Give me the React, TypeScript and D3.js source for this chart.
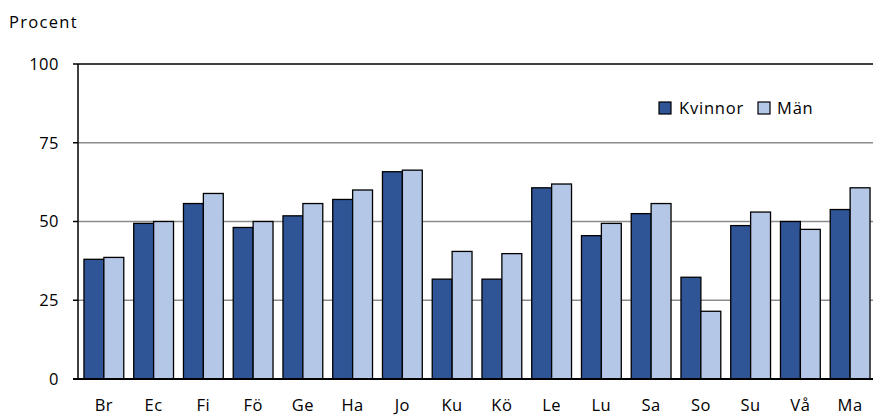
import * as d3 from "d3";

const categories = ["Br", "Ec", "Fi", "Fö", "Ge", "Ha", "Jo", "Ku", "Kö", "Le", "Lu", "Sa", "So", "Su", "Vå", "Ma"];
const kvinnor = [38, 49.4, 55.7, 48.1, 51.8, 57, 65.8, 31.7, 31.7, 60.7, 45.5, 52.5, 32.3, 48.7, 50, 53.8];
const man = [38.6, 50, 58.9, 50, 55.7, 60, 66.3, 40.5, 39.8, 61.9, 49.4, 55.7, 21.5, 53, 47.5, 60.7];
const yTicks = [0, 25, 50, 75, 100];
const seriesNames = ["Kvinnor", "Män"];
const seriesColors = ["#2F5597", "#B4C7E7"];

const W = 873;
const H = 417;
const left = 78;
const right = 876;
const top = 64;
const bottom = 379;
const font = "'Open Sans', sans-serif";

export default function App() {
  const x = d3.scaleBand<string>().domain(categories).range([left, right]).paddingInner(0.2).paddingOuter(0.12);
  const inner = d3.scaleBand<string>().domain(seriesNames).range([0, x.bandwidth()]);
  const y = d3.scaleLinear().domain([0, 100]).range([bottom, top]);
  const series = [kvinnor, man];

  return (
    <svg width={W} height={H} style={{ position: "absolute", left: 0, top: 0 }} fontFamily={font}>
      <rect width={W} height={H} fill="#fff" />
      <text x={9} y={28} fontSize={16.5} letterSpacing={1.3} fill="#000">Procent</text>
      {yTicks.filter((t) => t > 0 && t < 100).map((t) => (
        <line key={t} x1={left} x2={right} y1={y(t)} y2={y(t)} stroke="#8c8c8c" strokeWidth={1.5} />
      ))}
      <line x1={left} x2={right} y1={y(100)} y2={y(100)} stroke="#000" strokeWidth={1.5} />
      {series.map((vals, si) =>
        categories.map((c, i) => (
          <rect
            key={c + si}
            x={(x(c) ?? 0) + (inner(seriesNames[si]) ?? 0)}
            y={y(vals[i])}
            width={inner.bandwidth()}
            height={y(0) - y(vals[i])}
            fill={seriesColors[si]}
            stroke="#000"
            strokeWidth={1.3}
          />
        ))
      )}
      <line x1={left} x2={left} y1={top} y2={bottom} stroke="#000" strokeWidth={1.5} />
      <line x1={73} x2={right} y1={bottom} y2={bottom} stroke="#000" strokeWidth={1.8} />
      {yTicks.map((t) => (
        <g key={t}>
          <line x1={73} x2={left} y1={y(t)} y2={y(t)} stroke="#000" strokeWidth={1.5} />
          <text x={59} y={y(t)} dy="0.36em" textAnchor="end" fontSize={16.5} letterSpacing={0.5} fill="#000">{t}</text>
        </g>
      ))}
      {categories.map((c) => (
        <text key={c} x={(x(c) ?? 0) + x.bandwidth() / 2} y={411} textAnchor="middle" fontSize={16.5} letterSpacing={0.5} fill="#000">{c}</text>
      ))}
      <g>
        <rect x={659} y={102} width={12} height={12} fill={seriesColors[0]} stroke="#000" strokeWidth={1.2} />
        <text x={679} y={114} fontSize={16.5} letterSpacing={0.8} fill="#000">{seriesNames[0]}</text>
        <rect x={758} y={102} width={12} height={12} fill={seriesColors[1]} stroke="#000" strokeWidth={1.2} />
        <text x={777} y={114} fontSize={16.5} letterSpacing={0.8} fill="#000">{seriesNames[1]}</text>
      </g>
    </svg>
  );
}
